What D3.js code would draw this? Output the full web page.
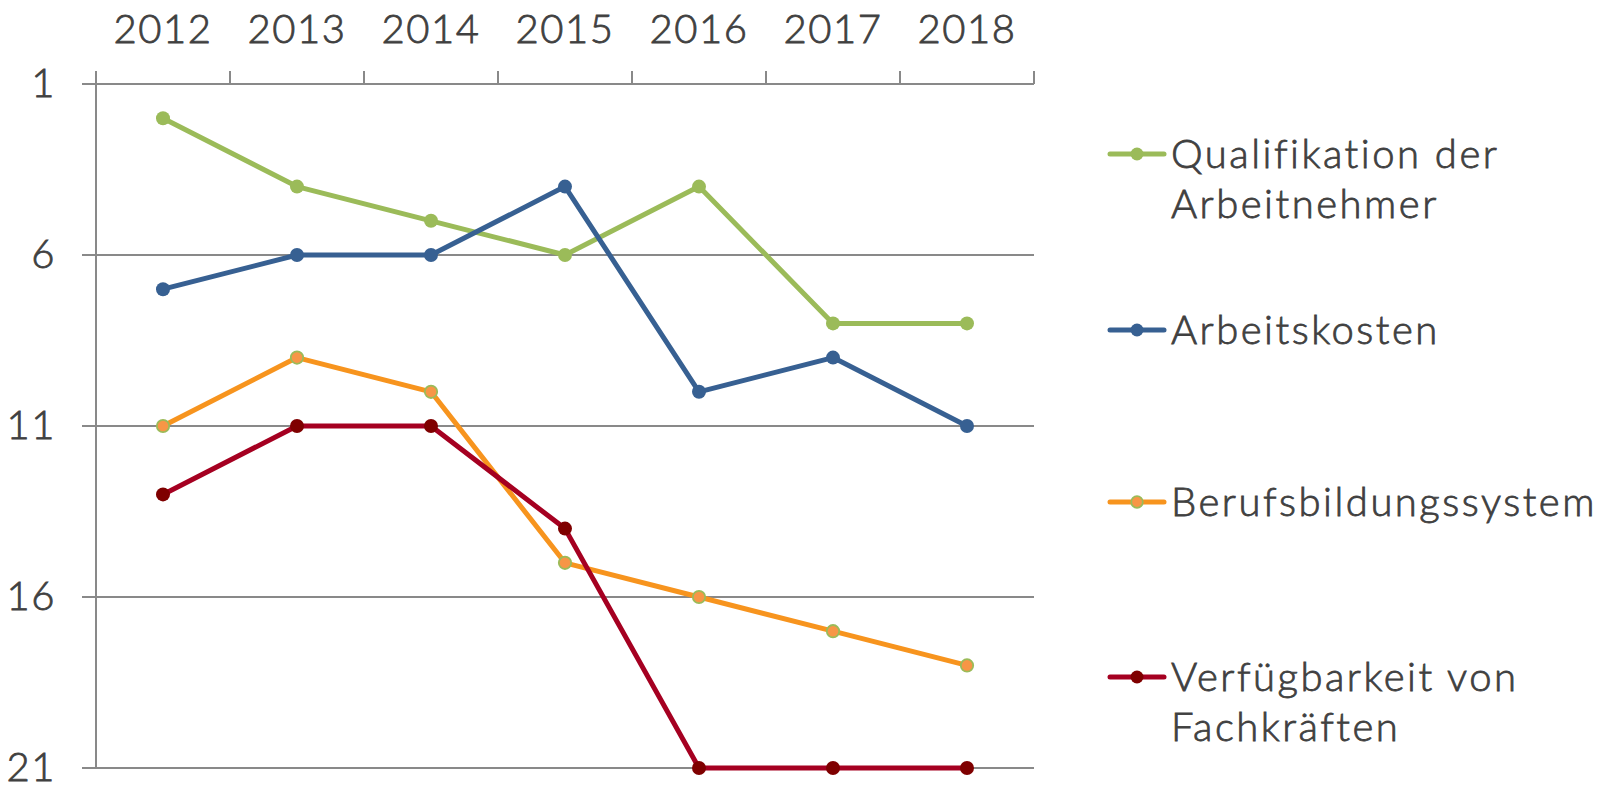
<!DOCTYPE html>
<html>
<head>
<meta charset="utf-8">
<script src="https://cdn.jsdelivr.net/npm/d3@7"></script>
<style>
  body { margin: 0; background: #fff; }
  text { font-family: "Lato", sans-serif; font-weight: 300; fill: #404040; stroke: #404040; stroke-width: 0.8px; }
</style>
</head>
<body>
<div id="chart-area"><svg></svg></div>
<script>
const years = ["2012", "2013", "2014", "2015", "2016", "2017", "2018"];
const rankTicks = [1, 6, 11, 16, 21];

const qualifikation = [2, 4, 5, 6, 4, 8, 8];
const arbeitskosten = [7, 6, 6, 4, 10, 9, 11];
const berufsbildung = [11, 9, 10, 15, 16, 17, 18];
const fachkraefte = [13, 11, 11, 14, 21, 21, 21];

const seriesNames = [
  ["Qualifikation der", "Arbeitnehmer"],
  ["Arbeitskosten"],
  ["Berufsbildungssystem"],
  ["Verfügbarkeit von", "Fachkräften"]
];

const chartSize = { width: 1615, height: 785 };
const plot = { left: 96, right: 1034, top: 84, bottom: 768 };
const fontSize = 40;

const styles = [
  { line: "#9BBB59", fill: "#9BBB59", stroke: "none" },
  { line: "#376092", fill: "#376092", stroke: "none" },
  { line: "#F7941E", fill: "#F79646", stroke: "#9BBB59" },
  { line: "#A50021", fill: "#7F0000", stroke: "none" }
];
const legendY = [154, 330, 502, 677];

const styleText = sel =>
  sel
    .attr("font-size", fontSize)
    .attr("letter-spacing", 1.5)
    .style("font-family", "Lato, sans-serif")
    .style("font-weight", 300)
    .attr("fill", "#404040")
    .attr("stroke", "#404040")
    .attr("stroke-width", 0.8);

const drawChart = function() {
  const allSeries = [qualifikation, arbeitskosten, berufsbildung, fachkraefte];

  const x = d3.scaleBand().domain(years).range([plot.left, plot.right]);
  const y = d3.scaleLinear().domain([1, 21]).range([plot.top, plot.bottom]);

  const svg = d3
    .select("#chart-area svg")
    .attr("width", chartSize.width)
    .attr("height", chartSize.height);

  svg.append("rect")
    .attr("width", chartSize.width)
    .attr("height", chartSize.height)
    .attr("fill", "#fff");

  const axisColor = "#898989";

  // horizontal gridlines
  svg.append("g")
    .selectAll("line")
    .data(rankTicks.slice(1))
    .enter()
    .append("line")
    .attr("x1", plot.left - 14)
    .attr("x2", plot.right)
    .attr("y1", d => y(d))
    .attr("y2", d => y(d))
    .attr("stroke", axisColor)
    .attr("stroke-width", 2);

  // top axis (category labels)
  const xAxis = d3.axisTop(x).tickSize(0).tickPadding(41);
  const gx = svg.append("g")
    .attr("transform", `translate(0, ${plot.top})`)
    .call(xAxis);
  gx.select(".domain").remove();
  styleText(gx.selectAll("text"));

  svg.append("line")
    .attr("x1", plot.left - 14)
    .attr("x2", plot.right)
    .attr("y1", plot.top)
    .attr("y2", plot.top)
    .attr("stroke", axisColor)
    .attr("stroke-width", 2);

  const bounds = years.map(d => x(d)).concat([plot.right]);
  svg.append("g")
    .selectAll("line")
    .data(bounds)
    .enter()
    .append("line")
    .attr("x1", d => d)
    .attr("x2", d => d)
    .attr("y1", plot.top - 13)
    .attr("y2", plot.top)
    .attr("stroke", axisColor)
    .attr("stroke-width", 2);

  // left axis
  const yAxis = d3.axisLeft(y).tickValues(rankTicks).tickSize(0).tickPadding(40);
  const gy = svg.append("g")
    .attr("transform", `translate(${plot.left}, 0)`)
    .call(yAxis);
  gy.select(".domain").remove();
  styleText(gy.selectAll("text"));

  svg.append("line")
    .attr("x1", plot.left)
    .attr("x2", plot.left)
    .attr("y1", plot.top - 13)
    .attr("y2", plot.bottom)
    .attr("stroke", axisColor)
    .attr("stroke-width", 2);

  // series
  const cx = i => x(years[i]) + x.bandwidth() / 2;
  const line = d3.line().x((d, i) => cx(i)).y(d => y(d));

  allSeries.forEach((values, s) => {
    const st = styles[s];
    const g = svg.append("g");
    g.append("path")
      .attr("d", line(values))
      .attr("fill", "none")
      .attr("stroke", st.line)
      .attr("stroke-width", 5)
      .attr("stroke-linejoin", "round");
    g.selectAll("circle")
      .data(values)
      .enter()
      .append("circle")
      .attr("cx", (d, i) => cx(i))
      .attr("cy", d => y(d))
      .attr("r", st.stroke === "none" ? 7 : 6.2)
      .attr("fill", st.fill)
      .attr("stroke", st.stroke)
      .attr("stroke-width", 1.8);
  });

  // legend
  const legend = svg.append("g");
  seriesNames.forEach((lines, s) => {
    const st = styles[s];
    const ly = legendY[s];
    const item = legend.append("g").attr("transform", `translate(1110, ${ly})`);
    item.append("line")
      .attr("x1", 0)
      .attr("x2", 54)
      .attr("stroke", st.line)
      .attr("stroke-width", 5)
      .attr("stroke-linecap", "round");
    item.append("circle")
      .attr("cx", 27)
      .attr("r", st.stroke === "none" ? 6.5 : 5.8)
      .attr("fill", st.fill)
      .attr("stroke", st.stroke)
      .attr("stroke-width", 1.8);
    const t = item.append("text").attr("x", 61);
    styleText(t).attr("letter-spacing", 2.5);
    lines.forEach((l, i) => {
      t.append("tspan")
        .attr("x", 61)
        .attr("y", i * 50)
        .attr("dy", "0.35em")
        .text(l);
    });
  });
};

window.onload = drawChart;
</script>
</body>
</html>
